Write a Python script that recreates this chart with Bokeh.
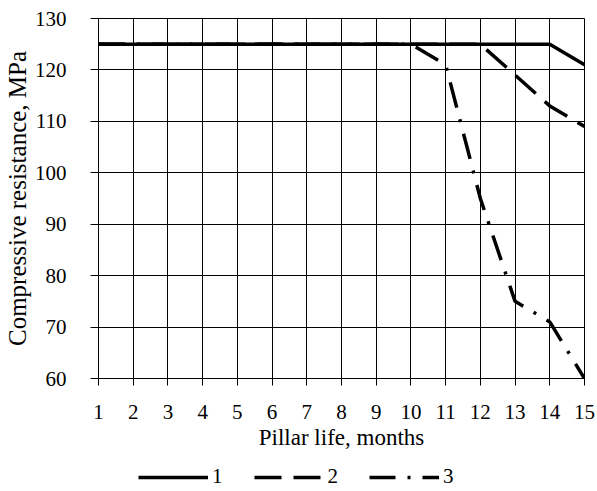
from bokeh.plotting import figure
from bokeh.layouts import column
from bokeh.models import Range1d, Legend, LegendItem, FixedTicker
from bokeh.embed import file_html
from bokeh.resources import INLINE

months = [1, 2, 3, 4, 5, 6, 7, 8, 9, 10, 11, 12, 13, 14, 15]
series1 = [125, 125, 125, 125, 125, 125, 125, 125, 125, 125, 125, 125, 125, 125, 121]
series2 = [125, 125, 125, 125, 125, 125, 125, 125, 125, 125, 125, 125, 119, 113, 109]
series3 = [125, 125, 125, 125, 125, 125, 125, 125, 125, 125, 121, 95, 75, 71, 60]
y_ticks = [60, 70, 80, 90, 100, 110, 120, 130]
labels = ["1", "2", "3"]

FONT = "Liberation Serif"
LW = 3.5
DASH2 = "27 12"
DASH3 = "26 12 3 12"

p = figure(width=597, height=468, output_backend="svg", toolbar_location=None,
           x_range=Range1d(1, 15), y_range=Range1d(60, 130),
           min_border_left=90, min_border_right=13, min_border_top=18,
           min_border_bottom=90)

p.background_fill_color = "white"
p.outline_line_color = "black"
p.outline_line_width = 1

p.xaxis.ticker = FixedTicker(ticks=months)
p.yaxis.ticker = FixedTicker(ticks=y_ticks)
p.xaxis.minor_tick_line_color = None
p.yaxis.minor_tick_line_color = None
p.xaxis.major_tick_in = 0
p.xaxis.major_tick_out = 7
p.yaxis.major_tick_in = 0
p.yaxis.major_tick_out = 8
p.xaxis.axis_line_color = "black"
p.yaxis.axis_line_color = "black"
p.xaxis.major_tick_line_color = "black"
p.yaxis.major_tick_line_color = "black"

for ax in (p.xaxis, p.yaxis):
    ax.major_label_text_font = FONT
    ax.major_label_text_font_size = "21px"
    ax.major_label_text_color = "black"
    ax.axis_label_text_font = FONT
    ax.axis_label_text_font_style = "normal"
    ax.axis_label_text_color = "black"

p.xaxis.axis_label = "Pillar life, months"
p.yaxis.axis_label = "Compressive resistance, MPa"
p.xaxis.axis_label_text_font_size = "23px"
p.yaxis.axis_label_text_font_size = "25px"
p.xaxis.major_label_standoff = 19
p.yaxis.major_label_standoff = 24
p.xaxis.axis_label_standoff = 3
p.yaxis.axis_label_standoff = 1

p.xgrid.ticker = FixedTicker(ticks=months)
p.ygrid.ticker = FixedTicker(ticks=y_ticks)
p.xgrid.grid_line_color = "black"
p.ygrid.grid_line_color = "black"
p.xgrid.grid_line_width = 1
p.ygrid.grid_line_width = 1

p.line(months, series3, line_color="black", line_width=LW, line_dash=DASH3)
p.line(months, series2, line_color="black", line_width=LW, line_dash=DASH2)
p.line(months, series1, line_color="black", line_width=LW)

# legend strip below the chart (its own lines fall outside its empty ranges)
q = figure(width=597, height=32, output_backend="svg", toolbar_location=None,
           x_range=Range1d(-20, -10), y_range=Range1d(-20, -10),
           min_border_left=0, min_border_right=0, min_border_top=0,
           min_border_bottom=0)
q.styles = {"margin-top": "-10px"}
q.axis.visible = False
q.grid.visible = False
q.outline_line_color = None
q.background_fill_alpha = 0
q.border_fill_alpha = 0
k1 = q.line(months, series1, line_color="black", line_width=LW)
k2 = q.line(months, series2, line_color="black", line_width=LW, line_dash=DASH2)
k3 = q.line(months, series3, line_color="black", line_width=LW, line_dash=DASH3)

legend = Legend(items=[LegendItem(label=labels[0], renderers=[k1]),
                       LegendItem(label=labels[1], renderers=[k2]),
                       LegendItem(label=labels[2], renderers=[k3])],
                orientation="horizontal", location=(40, 1),
                border_line_alpha=0, background_fill_alpha=0,
                glyph_width=70, glyph_height=20, label_height=20,
                label_width=10, label_standoff=4, spacing=31,
                padding=0, margin=0,
                label_text_font=FONT, label_text_font_size="21px",
                label_text_color="black")
q.add_layout(legend, "center")

layout = column(p, q, spacing=0)
open("out.html", "w").write(file_html(layout, INLINE))
